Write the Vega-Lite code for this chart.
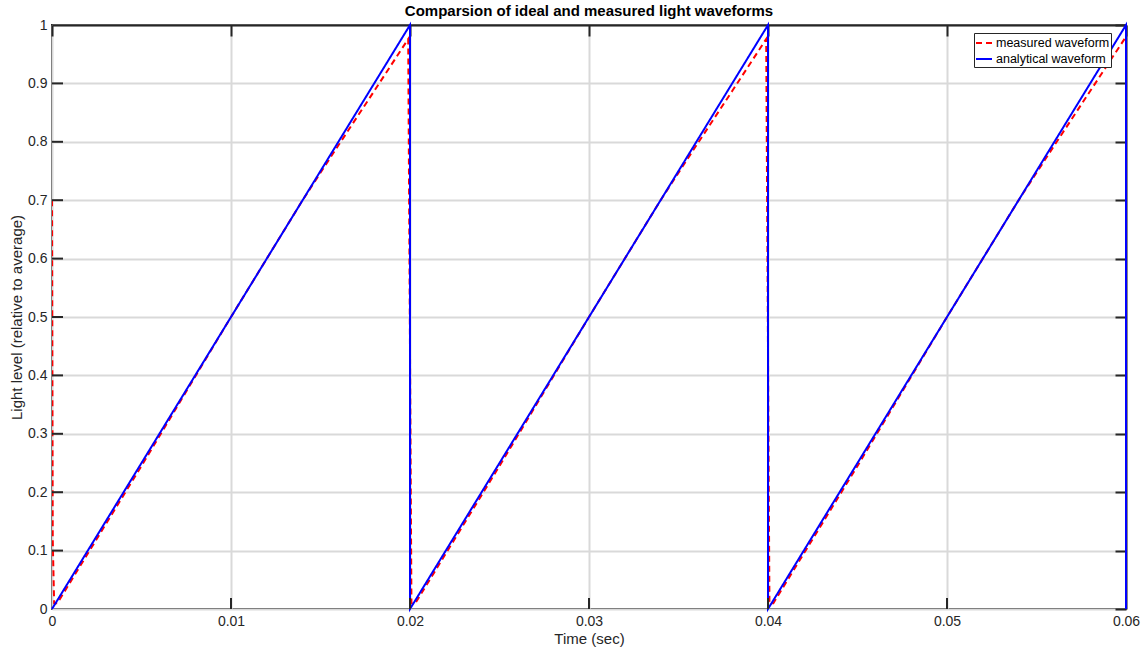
{
  "$schema": "https://vega.github.io/schema/vega-lite/v6.json",
  "width": 1074,
  "height": 584,
  "autosize": {"type": "none"},
  "padding": {"left": 52, "top": 25, "right": 20, "bottom": 44},
  "background": "white",
  "title": {
    "text": "Comparsion of ideal and measured light waveforms",
    "font": "Liberation Sans",
    "fontSize": 15,
    "fontWeight": "bold",
    "color": "#000000",
    "anchor": "middle",
    "offset": -1
  },
  "config": {
    "font": "Liberation Sans",
    "view": {"stroke": "#262626", "strokeWidth": 2},
    "axis": {
      "domainColor": "#262626",
      "domainWidth": 2,
      "tickColor": "#262626",
      "tickWidth": 2,
      "gridColor": "#d9d9d9",
      "gridWidth": 2,
      "labelFlush": false,
      "labelFont": "Liberation Sans",
      "labelFontSize": 14,
      "labelColor": "#262626",
      "titleFont": "Liberation Sans",
      "titleFontSize": 15,
      "titleFontWeight": "normal",
      "titleColor": "#262626"
    }
  },
  "datasets": {
    "measured": [
      {"t": 0, "v": 0.7, "i": 0},
      {"t": 0.00004, "v": 0.12, "i": 1},
      {"t": 0.00012, "v": 0.01, "i": 2},
      {"t": 0.0003, "v": 0.01, "i": 3},
      {"t": 0.002, "v": 0.095, "i": 4},
      {"t": 0.005, "v": 0.245, "i": 5},
      {"t": 0.01, "v": 0.5, "i": 6},
      {"t": 0.014, "v": 0.7, "i": 7},
      {"t": 0.016, "v": 0.794, "i": 8},
      {"t": 0.018, "v": 0.887, "i": 9},
      {"t": 0.0199, "v": 0.976, "i": 10},
      {"t": 0.02008, "v": 0.01, "i": 11},
      {"t": 0.0203, "v": 0.01, "i": 12},
      {"t": 0.022, "v": 0.095, "i": 13},
      {"t": 0.025, "v": 0.245, "i": 14},
      {"t": 0.03, "v": 0.5, "i": 15},
      {"t": 0.034, "v": 0.7, "i": 16},
      {"t": 0.036, "v": 0.794, "i": 17},
      {"t": 0.038, "v": 0.887, "i": 18},
      {"t": 0.0399, "v": 0.976, "i": 19},
      {"t": 0.04008, "v": 0.01, "i": 20},
      {"t": 0.0403, "v": 0.01, "i": 21},
      {"t": 0.042, "v": 0.095, "i": 22},
      {"t": 0.045, "v": 0.245, "i": 23},
      {"t": 0.05, "v": 0.5, "i": 24},
      {"t": 0.054, "v": 0.7, "i": 25},
      {"t": 0.056, "v": 0.794, "i": 26},
      {"t": 0.058, "v": 0.887, "i": 27},
      {"t": 0.06, "v": 0.98, "i": 28}
    ],
    "analytical": [
      {"t": 0, "v": 0, "i": 0},
      {"t": 0.02, "v": 1, "i": 1},
      {"t": 0.02, "v": 0, "i": 2},
      {"t": 0.04, "v": 1, "i": 3},
      {"t": 0.04, "v": 0, "i": 4},
      {"t": 0.06, "v": 1, "i": 5},
      {"t": 0.06, "v": 0, "i": 6}
    ],
    "xticks": [
      {"t": 0.01, "v": 0},
      {"t": 0.02, "v": 0},
      {"t": 0.03, "v": 0},
      {"t": 0.04, "v": 0},
      {"t": 0.05, "v": 0}
    ],
    "yticks": [
      {"t": 0, "v": 0.1},
      {"t": 0, "v": 0.2},
      {"t": 0, "v": 0.3},
      {"t": 0, "v": 0.4},
      {"t": 0, "v": 0.5},
      {"t": 0, "v": 0.6},
      {"t": 0, "v": 0.7},
      {"t": 0, "v": 0.8},
      {"t": 0, "v": 0.9}
    ]
  },
  "layer": [
    {
      "data": {"name": "measured"},
      "transform": [{"calculate": "'measured waveform'", "as": "series"}],
      "mark": {"type": "line", "strokeWidth": 2, "clip": true},
      "encoding": {
        "x": {
          "field": "t", "type": "quantitative",
          "scale": {"domain": [0, 0.06], "nice": false, "zero": false},
          "axis": {"orient": "bottom", "title": "Time (sec)", "values": [0, 0.01, 0.02, 0.03, 0.04, 0.05, 0.06], "format": "~g", "domain": false, "ticks": false, "labelPadding": 5, "titlePadding": 3, "grid": false, "zindex": 0}
        },
        "y": {
          "field": "v", "type": "quantitative",
          "scale": {"domain": [0, 1], "nice": false},
          "axis": {"orient": "left", "title": "Light level (relative to average)", "values": [0, 0.1, 0.2, 0.3, 0.4, 0.5, 0.6, 0.7, 0.8, 0.9, 1], "format": "~g", "domain": false, "ticks": false, "labelPadding": 5, "titlePadding": 3, "grid": false, "zindex": 0}
        },
        "order": {"field": "i", "type": "quantitative"},
        "color": {
          "field": "series", "type": "nominal",
          "scale": {"domain": ["measured waveform", "analytical waveform"], "range": ["#ff0000", "#0000ff"]},
          "legend": {
            "title": null,
            "orient": "none",
            "legendX": 922,
            "legendY": 8,
            "fillColor": "white",
            "strokeColor": "#262626",
            "padding": 1,
            "labelFont": "Liberation Sans",
            "labelFontSize": 12.5,
            "labelColor": "#000000",
            "labelOffset": 3,
            "symbolType": "stroke",
            "symbolSize": 256,
            "symbolStrokeWidth": 2,
            "rowPadding": 0
          }
        },
        "strokeDash": {
          "field": "series", "type": "nominal",
          "scale": {"domain": ["measured waveform", "analytical waveform"], "range": [[6, 4], [1, 0]]},
          "legend": null
        }
      }
    },
    {
      "data": {"name": "analytical"},
      "transform": [{"calculate": "'analytical waveform'", "as": "series"}],
      "mark": {"type": "line", "strokeWidth": 2, "clip": false},
      "encoding": {
        "x": {
          "field": "t", "type": "quantitative",
          "axis": {"orient": "top", "title": null, "labels": false, "tickSize": -11, "values": [0, 0.01, 0.02, 0.03, 0.04, 0.05, 0.06], "grid": true, "zindex": 0}
        },
        "y": {
          "field": "v", "type": "quantitative",
          "axis": {"orient": "right", "title": null, "labels": false, "tickSize": -11, "values": [0, 0.1, 0.2, 0.3, 0.4, 0.5, 0.6, 0.7, 0.8, 0.9, 1], "grid": true, "zindex": 0}
        },
        "order": {"field": "i", "type": "quantitative"},
        "color": {"field": "series", "type": "nominal"},
        "strokeDash": {"field": "series", "type": "nominal"}
      }
    },
    {
      "data": {"name": "xticks"},
      "mark": {"type": "tick", "orient": "vertical", "size": 22, "thickness": 2, "color": "#262626", "opacity": 1, "clip": true},
      "encoding": {
        "x": {"field": "t", "type": "quantitative", "axis": null},
        "y": {"field": "v", "type": "quantitative", "axis": null}
      }
    },
    {
      "data": {"name": "yticks"},
      "mark": {"type": "tick", "orient": "horizontal", "size": 22, "thickness": 2, "color": "#262626", "opacity": 1, "clip": true},
      "encoding": {
        "x": {"field": "t", "type": "quantitative", "axis": null},
        "y": {"field": "v", "type": "quantitative", "axis": null}
      }
    }
  ],
  "resolve": {"axis": {"x": "independent", "y": "independent"}}
}
